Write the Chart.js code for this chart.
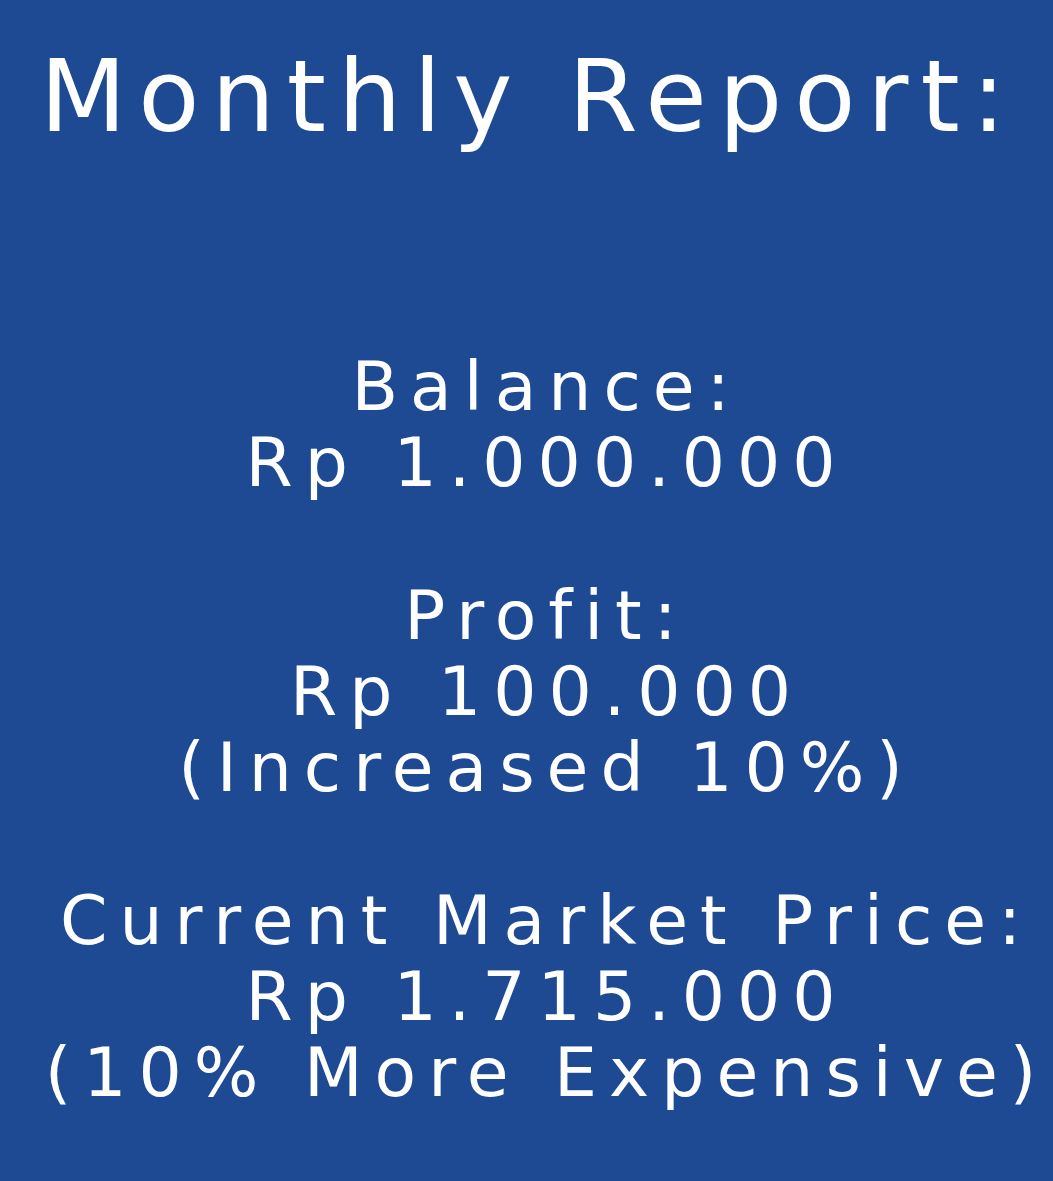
<!DOCTYPE html>
<html>
<head>
<meta charset="utf-8">
<script src="https://cdn.jsdelivr.net/npm/chart.js@4/dist/chart.umd.min.js"></script>
<style>
  html, body { margin: 0; padding: 0; background: #1e4a94; }
  #report { display: block; }
</style>
</head>
<body>
<canvas id="report" width="1053" height="1181"></canvas>
<script>
// report text
var reportTitle = 'Monthly Report:';
var itemLabels = ['Balance:', 'Profit:', 'Current Market Price:'];
var itemAmounts = ['Rp 1.000.000', 'Rp 100.000', 'Rp 1.715.000'];
var itemNotes = ['', '(Increased 10%)', '(10% More Expensive)'];

// build the subtitle lines, blank line between blocks
var lines = [];
for (var i = 0; i < itemLabels.length; i++) {
  if (i > 0) lines.push('');
  lines.push(itemLabels[i]);
  lines.push(itemAmounts[i]);
  if (itemNotes[i]) lines.push(itemNotes[i]);
}

// wider letters, closer to the hand-drawn font
var spacing = {
  id: 'spacing',
  beforeDraw: function (chart) {
    chart.ctx.letterSpacing = '12px';
  }
};

var ctx = document.getElementById('report').getContext('2d');
var reportChart = new Chart(ctx, {
  type: 'bar',
  data: {
    labels: [],
    datasets: [{ data: [] }]
  },
  plugins: [spacing],
  options: {
    responsive: false,
    animation: false,
    layout: { padding: { left: 40, right: 0, top: 45, bottom: 0 } },
    scales: {
      x: { display: false },
      y: { display: false }
    },
    plugins: {
      legend: { display: false },
      tooltip: { enabled: false },
      title: {
        display: true,
        text: reportTitle,
        align: 'start',
        color: '#ffffff',
        font: { family: 'DejaVu Sans', size: 100, weight: 'normal', lineHeight: 1.2 },
        padding: { top: 0, bottom: 189 }
      },
      subtitle: {
        display: true,
        text: lines,
        align: 'center',
        color: '#ffffff',
        font: { family: 'DejaVu Sans', size: 68, weight: 'normal', lineHeight: 1.122 },
        padding: 0
      }
    }
  }
});
</script>
</body>
</html>
